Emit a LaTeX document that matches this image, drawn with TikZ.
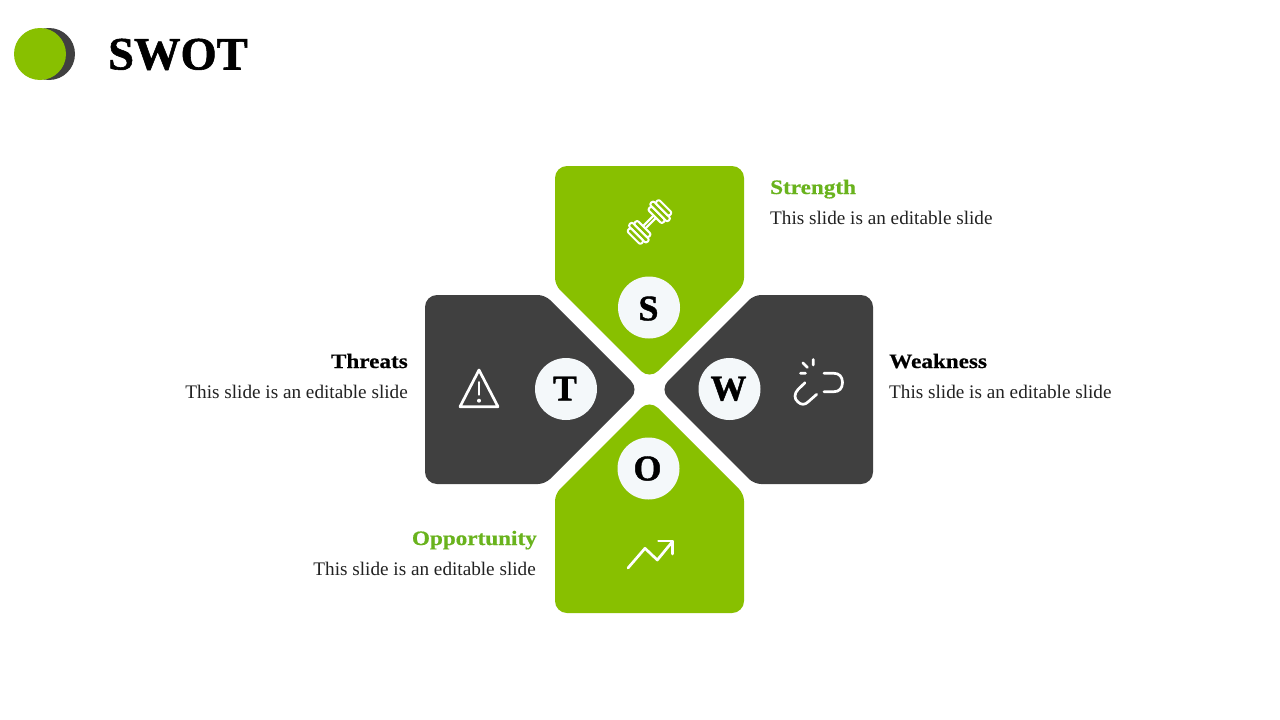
\documentclass[tikz,border=0pt]{standalone}
\usepackage{fontspec}
\setmainfont{Liberation Serif}
\newfontfamily\headfont[FakeStretch=1.13,FakeBold=0.6]{Liberation Serif Bold}
\newfontfamily\capfont[FakeBold=1.2]{Liberation Serif Bold}
\definecolor{lime}{HTML}{88C000}
\definecolor{dark}{HTML}{404040}
\definecolor{pale}{HTML}{F4F8FA}
\definecolor{lab}{HTML}{69B31D}
\definecolor{body}{HTML}{222222}
\tikzset{
  disc/.style={circle,fill=pale,minimum size=62pt,inner sep=0pt},
  letter/.style={font=\capfont\fontsize{36}{36}\selectfont,anchor=base,inner sep=0pt,text=black},
  head/.style={font=\headfont\fontsize{20.5}{20.5}\selectfont,inner sep=0pt},
  txt/.style={font=\fontsize{19.2}{19.2}\selectfont,text=body,inner sep=0pt},
  icon/.style={draw=white,line width=2.7pt,line cap=round,line join=round},
  plate/.style={draw=white,line width=2pt,rounded corners=2pt,line join=round},
}
\begin{document}
\begin{tikzpicture}[x=1pt,y=-1pt]
\useasboundingbox (0,0) rectangle (1280,720);
\fill[white] (0,0) rectangle (1280,720);
% logo
\fill[dark] (49,54) circle (26);
\fill[lime] (40,54) circle (26);
\node[font=\capfont\fontsize{46.5}{46.5}\selectfont,anchor=base west,inner sep=0pt] (title) at (108,69.5) {SWOT};
% petals
\fill[lime,rounded corners=12pt] (649.5,379.5) -- (600,330) [rounded corners=7pt] -- (555,285) [rounded corners=12pt] -- (555,166) -- (744,166) [rounded corners=7pt] -- (744,285) [rounded corners=12pt] -- cycle;
\fill[dark,rounded corners=12pt] (659.5,389.5) -- (710,339) [rounded corners=7pt] -- (754,295) [rounded corners=12pt] -- (873,295) -- (873,484) [rounded corners=7pt] -- (754,484) [rounded corners=12pt] -- cycle;
\fill[dark,rounded corners=12pt] (639.5,389.5) -- (590,340) [rounded corners=7pt] -- (545,295) [rounded corners=12pt] -- (425,295) -- (425,484) [rounded corners=7pt] -- (545,484) [rounded corners=12pt] -- cycle;
\fill[lime,rounded corners=12pt] (649.5,399.5) -- (600,449) [rounded corners=7pt] -- (555,494) [rounded corners=12pt] -- (555,613) -- (744,613) [rounded corners=7pt] -- (744,494) [rounded corners=12pt] -- cycle;
% discs
\node[disc] (dS) at (649,307.5) {};
\node[disc] (dW) at (729.5,389) {};
\node[disc] (dT) at (566,389) {};
\node[disc] (dO) at (648.5,468.5) {};
\node[letter] (lS) at (648.5,320.3) {S};
\node[letter] (lW) at (728.5,400.3) {W};
\node[letter] (lT) at (565,400.3) {T};
\node[letter] (lO) at (647.5,480.3) {O};
% dumbbell
\begin{scope}[shift={(649.5,222)},rotate=45]
  \draw[draw=white,line width=2pt,line cap=round] (-7,-1.7) -- (7,-1.7) (-7,1.7) -- (7,1.7);
  \foreach \s in {1,-1}{
    \draw[plate] (\s*7.5,-10) rectangle (\s*12.5,10);
    \draw[plate] (\s*12.5,-12.5) rectangle (\s*17.5,12.5);
    \draw[plate] (\s*17.5,-9.5) rectangle (\s*22.5,9.5);
  }
\end{scope}
% broken link
\draw[icon] (824,373.3) -- (834,373.3) .. controls (839,373.3) and (842.5,376.5) .. (842.5,382.5) .. controls (842.5,388.5) and (839,391.7) .. (834,391.7) -- (824,391.7);
\draw[icon] (805,382.7) -- (798,389.5) .. controls (794,393.5) and (794,399) .. (798,402) .. controls (801,405) and (805,405) .. (808,402) -- (816.7,394.3);
\draw[icon] (813.3,359.5) -- (813.3,365) (802.9,362.9) -- (807.3,367.3) (800.5,373.3) -- (805.5,373.3);
% warning
\draw[icon,line cap=butt,line join=round] (479,370) -- (498,406.7) -- (460,406.7) -- cycle;
\draw[icon] (479,382.3) -- (479,394.5);
\fill[white] (479,400.7) circle (2);
% trend
\draw[icon] (628,568) -- (645,548.3) -- (657.3,560) -- (672.5,541.5);
\draw[icon] (658.5,541) -- (672.7,541) -- (672.7,554);
% labels
\node[head,text=lab,anchor=base west] (hS) at (770,194) {Strength};
\node[txt,anchor=base west] (tS) at (770,224) {This slide is an editable slide};
\node[head,text=black,anchor=base west] (hW) at (889,368) {Weakness};
\node[txt,anchor=base west] (tW) at (889,398) {This slide is an editable slide};
\node[head,text=black,anchor=base east] (hT) at (408,368) {Threats};
\node[txt,anchor=base east] (tT) at (408,398) {This slide is an editable slide};
\node[head,text=lab,anchor=base east] (hO) at (537,545) {Opportunity};
\node[txt,anchor=base east] (tO) at (536,575) {This slide is an editable slide};
\end{tikzpicture}
\end{document}
